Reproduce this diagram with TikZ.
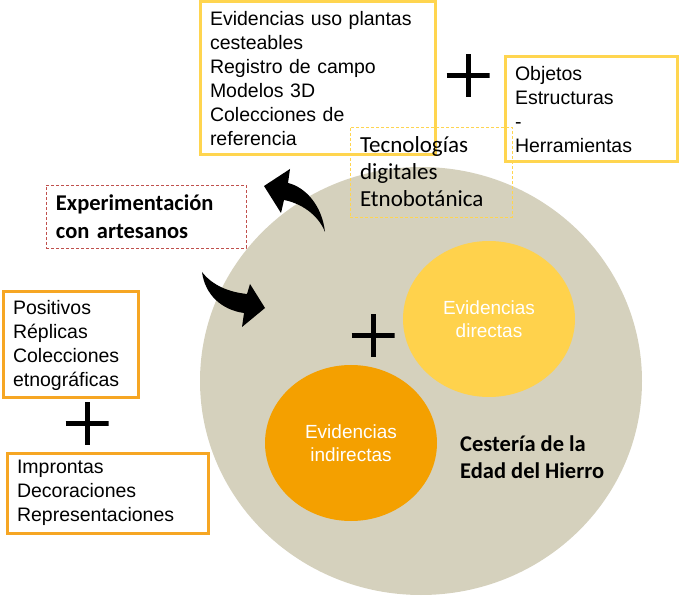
\documentclass[tikz,border=0pt]{standalone}
\usepackage{fontspec}
\setmainfont{Liberation Sans}
\newfontfamily\calibri{Carlito}
\usetikzlibrary{shapes.geometric}
\definecolor{fondogris}{HTML}{D5D1BD}
\definecolor{amarillo}{HTML}{FFD24C}
\definecolor{naranja}{HTML}{F4A000}
\definecolor{bordeamarillo}{HTML}{FFD54F}
\definecolor{bordenaranja}{HTML}{F6A623}
\definecolor{rojizo}{HTML}{C0504D}

\begin{document}
\begin{tikzpicture}[x=1pt,y=-1pt]
    \tikzstyle{caja} = [rectangle, draw=bordeamarillo, line width=3pt,
        align=left, inner xsep=10pt, inner ysep=0pt,
        font=\fontsize{19.5}{24}\selectfont]
    \tikzstyle{punteada} = [rectangle, draw, dashed, line width=0.8pt,
        dash pattern=on 3pt off 2pt,
        align=left, inner xsep=10pt, inner ysep=0pt]
    \tikzstyle{evid} = [ellipse, minimum width=172pt, minimum height=156pt,
        text=white, align=center, font=\fontsize{19}{23}\selectfont]
    \tikzstyle{mas} = [rectangle, minimum size=43pt, inner sep=0pt,
        path picture={\draw[line width=5pt]
            (path picture bounding box.north) -- (path picture bounding box.south)
            (path picture bounding box.west) -- (path picture bounding box.east);}]

    \useasboundingbox (0,0) rectangle (681,596);

    \node(cesteria) [ellipse, fill=fondogris, minimum width=442pt,
        minimum height=428pt] at (421,381) {};
    \node(directas) [evid, fill=amarillo] at (489,319)
        {Evidencias\\ directas};
    \node(indirectas) [evid, fill=naranja] at (351,443)
        {Evidencias\\ indirectas};
    \node(titulo) [align=left, inner sep=0pt, anchor=west,
        font=\calibri\bfseries\fontsize{22.5}{27}\selectfont]
        at (460,457) {Cestería de la\\ Edad del Hierro};
    \node(masdentro) [mas] at (373,336) {};

    \node(usos) [caja, text width=215pt, minimum height=153pt]
        at (317.5,78.5)
        {Evidencias uso plantas\\ cesteables\\ Registro de campo\\
        Modelos 3D\\ Colecciones de\\ referencia};
    \node(masarriba) [mas] at (468,76) {};
    \node(objetos) [caja, text width=152pt, minimum height=105pt]
        at (591,109.5)
        {Objetos\\ Estructuras\\ -\\ Herramientas};
    \node(tecno) [punteada, draw=bordeamarillo, text width=142pt,
        minimum height=90pt, font=\calibri\fontsize{23}{27}\selectfont]
        at (431,172)
        {Tecnologías\\ digitales\\ Etnobotánica};

    \node(experim) [punteada, draw=rojizo, text width=180pt,
        minimum height=63pt,
        font=\calibri\bfseries\fontsize{22.5}{28}\selectfont]
        at (146,216.5)
        {Experimentación\\ con artesanos};

    \node(positivos) [caja, draw=bordenaranja, text width=115pt,
        minimum height=106pt] at (70.5,345)
        {Positivos\\ Réplicas\\ Colecciones\\ etnográficas};
    \node(masizq) [mas] at (87,424) {};
    \node(improntas) [caja, draw=bordenaranja, text width=181pt,
        minimum height=80pt] at (107.5,493)
        {Improntas\\ Decoraciones\\ Representaciones};

    % flechas curvas
    \fill (325,232) .. controls (322,205) and (305,187) .. (288,183)
        -- (290,169) -- (264,186) -- (281,213) -- (284,200)
        .. controls (300,203) and (318,214) .. (325,232) -- cycle;
    \fill (202,272) .. controls (212,285) and (228,292) .. (247,294)
        -- (250,284) -- (265,308) -- (242,327) -- (244,313)
        .. controls (222,310) and (205,295) .. (202,272) -- cycle;
\end{tikzpicture}
\end{document}
